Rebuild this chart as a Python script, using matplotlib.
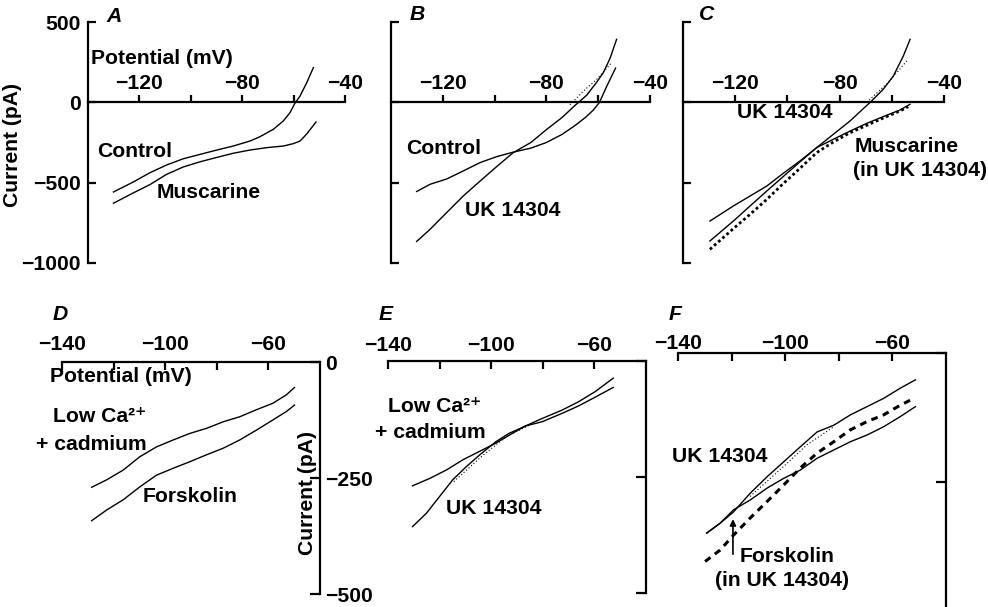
import matplotlib.pyplot as plt

plt.rcParams['font.family'] = ['Liberation Sans', 'DejaVu Sans']
plt.rcParams['font.weight'] = 'bold'
plt.rcParams['font.size'] = 15.2
plt.rcParams['axes.linewidth'] = 1.6

# ---- data (potential in mV, current in pA) ----
a_ctrl_v = [-130.1, -122.4, -115.9, -109.4, -102.9, -96.4, -89.9, -83.5, -77.0, -73.1, -67.9, -64.0, -61.4, -59.5, -57.5, -54.9, -52.3]
a_ctrl_i = [-558, -496, -438, -390, -351, -324, -297, -272, -241, -214, -168, -116, -64, -6, 39, 122, 216]
a_musc_v = [-130.1, -122.4, -115.9, -109.4, -102.9, -96.4, -89.9, -83.5, -77.0, -70.5, -64.0, -60.1, -57.5, -54.9, -51.3]
a_musc_i = [-628, -564, -512, -448, -402, -370, -343, -317, -297, -282, -272, -257, -241, -197, -123]

b_ctrl_v = [-130.1, -124.9, -118.5, -112.1, -105.6, -99.2, -92.8, -86.0, -80.0, -74.0, -69.0, -65.0, -62.0, -59.5, -56.7, -53.3]
b_ctrl_i = [-555, -510, -477, -427, -375, -338, -310, -285, -250, -200, -145, -95, -50, 0, 100, 213]
b_uk_v = [-130.1, -124.9, -118.5, -112.1, -105.6, -99.2, -92.8, -86.0, -80.0, -74.0, -69.0, -64.4, -60.6, -58.0, -55.4, -52.9]
b_uk_i = [-866, -790, -686, -583, -490, -400, -313, -250, -170, -95, -20, 45, 125, 185, 275, 392]
b_fit_v = [-70.9, -65.7, -60.6, -54.8]
b_fit_i = [-15, 70, 143, 247]

c_musc_v = [-129.7, -120.7, -114.3, -107.9, -101.6, -95.2, -88.8, -82.4, -76.0, -69.6, -63.3, -56.9, -53.0]
c_musc_i = [-739, -645, -583, -521, -442, -365, -282, -230, -179, -131, -89, -48, -12]
c_uk_v = [-129.7, -120.7, -114.3, -107.9, -101.6, -95.2, -88.8, -82.4, -76.0, -70.9, -68.4, -63.3, -59.4, -55.6, -53.0]
c_uk_i = [-863, -739, -645, -552, -462, -371, -282, -199, -116, -39, -2, 81, 164, 288, 392]
c_dot_v = [-129.7, -120.7, -114.3, -107.9, -101.6, -95.2, -88.8, -82.4, -76.0, -69.6, -63.3, -56.9, -53.7]
c_dot_i = [-915, -786, -697, -604, -506, -411, -313, -247, -189, -143, -98, -54, -27]
c_fit_v = [-69.6, -61.4, -53.7]
c_fit_i = [0, 123, 268]

d_v = [-128.5, -122.7, -116.3, -109.8, -103.4, -96.9, -90.5, -84.0, -77.6, -71.1, -64.7, -58.3, -53.1, -49.9]
d_lowca_i = [-270, -254, -233, -204, -183, -168, -154, -143, -129, -118, -103, -89, -71, -55]
d_forsk_i = [-342, -319, -297, -269, -244, -229, -215, -200, -186, -168, -147, -125, -107, -93]

e_lowca_v = [-130.5, -123.8, -117.4, -111.0, -104.6, -98.2, -91.8, -86.7, -80.3, -72.6, -66.2, -59.7, -52.7]
e_lowca_i = [-269, -253, -235, -213, -195, -177, -156, -140, -131, -113, -97, -78, -57]
e_uk_v = [-130.5, -125.1, -120.0, -114.9, -109.7, -104.6, -98.2, -93.1, -86.7, -80.3, -72.6, -66.2, -59.7, -52.7]
e_uk_i = [-357, -328, -292, -256, -228, -203, -174, -156, -140, -124, -106, -88, -66, -37]
e_fit_v = [-114.5, -104.0, -94.0, -85.4]
e_fit_i = [-260, -207, -162, -139]

f_v = [-129.3, -124.3, -119.3, -113.1, -106.8, -100.6, -94.4, -88.1, -81.9, -75.7, -69.5, -63.3, -57.0, -51.4]
f_uk_i = [-349, -330, -308, -272, -240, -211, -182, -153, -140, -120, -104, -88, -68, -52]
f_forsk_i = [-349, -330, -304, -285, -262, -243, -227, -204, -188, -172, -159, -143, -123, -104]
f_dash_v = [-129.9, -124.3, -119.3, -113.1, -106.8, -100.6, -94.4, -88.1, -81.9, -75.7, -69.5, -63.3, -57.0, -52.0]
f_dash_i = [-404, -382, -353, -320, -288, -256, -223, -194, -172, -149, -133, -120, -101, -88]
f_fit_v = [-113.1, -100.6, -91.9, -81.9]
f_fit_i = [-278, -220, -178, -143]

top_xticks = [-120, -100, -80, -60, -40]
top_xlabels = ['−120', '', '−80', '', '−40']
top_yticks = [500, 0, -500, -1000]
bot_xticks = [-140, -120, -100, -80, -60]
bot_xlabels = ['−140', '', '−100', '', '−60']
bot_yticks = [0, -250, -500]
bot_ylabels = ['0', '−250', '−500']

W, H = 988, 607
LW = 1.0


def rect(x0, y0, x1, y1):
    return [x0 / W, 1 - y1 / H, (x1 - x0) / W, (y1 - y0) / H]


def ftext(x, y, s, **kw):
    kw.setdefault('va', 'center')
    fig.text(x / W, 1 - y / H, s, **kw)


def top_axes(r, show_ylabels):
    ax = fig.add_axes(r)
    ax.set_xlim(-140, -40)
    ax.set_ylim(-1000, 500)
    ax.spines['right'].set_visible(False)
    ax.spines['bottom'].set_visible(False)
    ax.spines['top'].set_position(('data', 0))
    ax.xaxis.tick_top()
    ax.set_xticks(top_xticks)
    ax.set_xticklabels(top_xlabels)
    ax.tick_params(axis='x', direction='out', length=5, width=1.6, pad=2)
    ax.set_yticks(top_yticks)
    ax.tick_params(axis='y', direction='in', length=6, width=1.6, pad=5,
                   labelleft=show_ylabels)
    ax.patch.set_alpha(0)
    return ax


def bot_axes(r, yticks, show_ylabels, xpad):
    ax = fig.add_axes(r)
    ax.set_xlim(-140, -40)
    ax.set_ylim(-500, 0)
    ax.spines['left'].set_visible(False)
    ax.spines['bottom'].set_visible(False)
    ax.xaxis.tick_top()
    ax.set_xticks(bot_xticks)
    ax.set_xticklabels(bot_xlabels)
    ax.tick_params(axis='x', direction='in', length=6, width=1.6, pad=xpad)
    ax.yaxis.tick_right()
    ax.set_yticks(yticks)
    if show_ylabels:
        ax.set_yticklabels(bot_ylabels)
    ax.tick_params(axis='y', direction='in', length=7, width=1.6, pad=4,
                   labelright=show_ylabels)
    ax.patch.set_alpha(0)
    return ax


fig = plt.figure(figsize=(W / 100, H / 100), dpi=100)

# ---- A ----
axA = top_axes(rect(88, 22, 345, 263), True)
axA.plot(a_ctrl_v, a_ctrl_i, color='black', lw=LW)
axA.plot(a_musc_v, a_musc_i, color='black', lw=LW)

# ---- B ----
axB = top_axes(rect(391, 22, 650, 263), False)
axB.plot(b_ctrl_v, b_ctrl_i, color='black', lw=LW)
axB.plot(b_uk_v, b_uk_i, color='black', lw=LW)
axB.plot(b_fit_v, b_fit_i, color='black', lw=0.8, ls=(0, (1, 2)))

# ---- C ----
axC = top_axes(rect(683, 22, 944, 263), False)
axC.plot(c_musc_v, c_musc_i, color='black', lw=LW)
axC.plot(c_uk_v, c_uk_i, color='black', lw=LW)
axC.plot(c_dot_v, c_dot_i, color='black', lw=2.0, ls=(0, (1, 1)))
axC.plot(c_fit_v, c_fit_i, color='black', lw=0.8, ls=(0, (1, 2)))

# ---- D ----
axD = bot_axes(rect(62, 362, 320, 594), bot_yticks, True, 6)
axD.plot(d_v, d_lowca_i, color='black', lw=LW)
axD.plot(d_v, d_forsk_i, color='black', lw=LW)

# ---- E ----
axE = bot_axes(rect(388, 361, 646, 593), bot_yticks, False, 4)
axE.plot(e_lowca_v, e_lowca_i, color='black', lw=LW)
axE.plot(e_uk_v, e_uk_i, color='black', lw=LW)
axE.plot(e_fit_v, e_fit_i, color='black', lw=0.8, ls=(0, (1, 2)))

# ---- F ----
axF = bot_axes(rect(678, 353, 946, 611), [0, -250], False, 0)
axF.plot(f_v, f_uk_i, color='black', lw=LW)
axF.plot(f_v, f_forsk_i, color='black', lw=LW)
axF.plot(f_fit_v, f_fit_i, color='black', lw=0.8, ls=(0, (1, 2)))
axF.plot(f_dash_v, f_dash_i, color='black', lw=2.2, ls=(0, (2.2, 1.8)))
axF.annotate('', xy=(-119.5, -322), xytext=(-119.5, -390),
             arrowprops=dict(arrowstyle='-|>', color='black', lw=1.2,
                             mutation_scale=9, shrinkA=0, shrinkB=0))

# ---- texts ----
ftext(106, 17, 'A', style='italic')
ftext(410, 15, 'B', style='italic')
ftext(699, 15, 'C', style='italic')
ftext(53, 314, 'D', style='italic')
ftext(379, 314, 'E', style='italic')
ftext(669, 315, 'F', style='italic')

ftext(13, 145, 'Current (pA)', rotation=90, ha='center')
ftext(91, 58, 'Potential (mV)')
ftext(97, 152, 'Control')
ftext(157, 193, 'Muscarine')

ftext(406, 148, 'Control')
ftext(465, 210, 'UK 14304')

ftext(737, 113, 'UK 14304')
ftext(855, 147, 'Muscarine')
ftext(853, 170, '(in UK 14304)')

ftext(50, 377, 'Potential (mV)')
ftext(53, 417, 'Low Ca²⁺')
ftext(36, 444, '+ cadmium')
ftext(143, 497, 'Forskolin')
ftext(307, 493, 'Current (pA)', rotation=90, ha='center')

ftext(388, 406, 'Low Ca²⁺')
ftext(375, 433, '+ cadmium')
ftext(446, 508, 'UK 14304')

ftext(672, 457, 'UK 14304')
ftext(740, 557, 'Forskolin')
ftext(715, 580, '(in UK 14304)')

fig.savefig('out.png', dpi=100)
